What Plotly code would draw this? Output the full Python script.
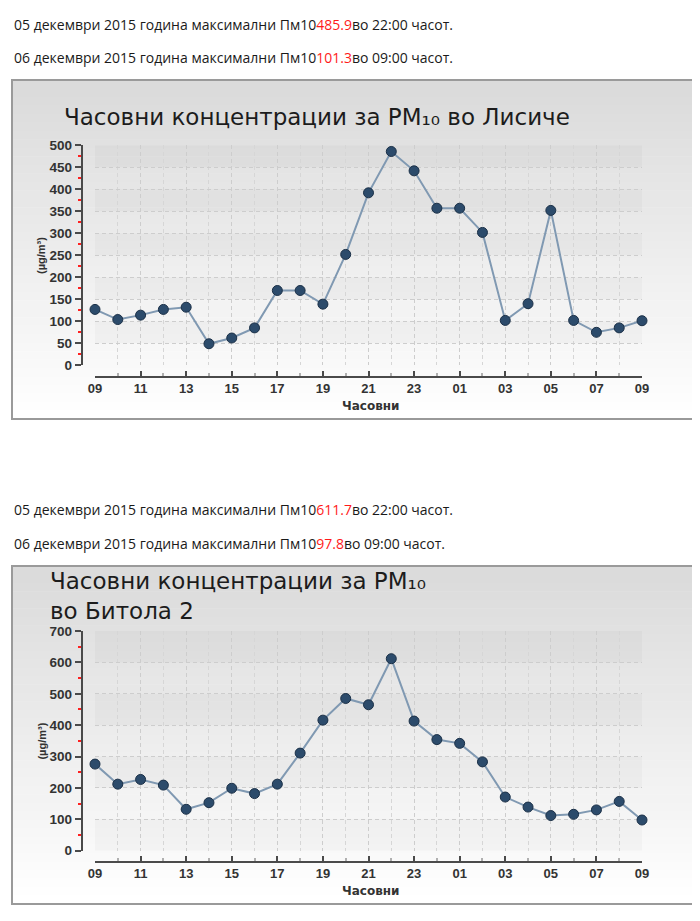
import plotly.graph_objects as go

# the page keeps the browser's 8px body margin, so the figure is 16px smaller
# than the window and every pixel position below is shifted by that margin
PAGE_W, PAGE_H = 700, 921
OFF = 8
W, H = PAGE_W - 2 * OFF, PAGE_H - 2 * OFF

hour_labels = ["09", "10", "11", "12", "13", "14", "15", "16", "17", "18", "19", "20",
               "21", "22", "23", "00", "01", "02", "03", "04", "05", "06", "07", "08", "09"]
hours = list(range(len(hour_labels)))

lisice = [127, 104, 114, 127, 132, 49, 62, 85, 170, 170, 139, 252,
          392, 485.9, 442, 357, 357, 302, 102, 140, 352, 102, 75, 85, 101.3]
bitola = [276, 212, 227, 209, 132, 153, 199, 182, 212, 311, 416, 485,
          465, 611.7, 413, 354, 342, 283, 171, 139, 112, 116, 130, 157, 97.8]

lisice_title = "Часовни концентрации за PM₁₀ во Лисиче"
bitola_title = "Часовни концентрации за PM₁₀<br>во Битола 2"

lisice_info = [("05 декември 2015 година максимални Пм10", "485.9", "во 22:00 часот."),
               ("06 декември 2015 година максимални Пм10", "101.3", "во 09:00 часот.")]
bitola_info = [("05 декември 2015 година максимални Пм10", "611.7", "во 22:00 часот."),
               ("06 декември 2015 година максимални Пм10", "97.8", "во 09:00 часот.")]


def px(x):
    return (x - OFF) / W


def py(y):
    return 1 - (y - OFF) / H


fig = go.Figure()
shapes = []
annotations = []

charts = [
    dict(data=lisice, title=lisice_title, info=lisice_info, box=(80, 419), info_y=(25, 58),
         title_x=62, title_y=117, y_top=145.3, y_bot=365.3, xline=376.7, ymax=500, dtick=50,
         xs="x", ys="y"),
    dict(data=bitola, title=bitola_title, info=bitola_info, box=(566, 904), info_y=(510, 543),
         title_x=48, title_y=596, y_top=631, y_bot=850.7, xline=861.7, ymax=700, dtick=100,
         xs="x2", ys="y2"),
]

text_font = dict(family="Open Sans, Noto Sans, sans-serif", size=14, color="#1a1a1a")

for i, c in enumerate(charts):
    top, bot = c["box"]
    n = 40
    step = (bot - top) / n
    for k in range(n):
        t = k / (n - 1)
        g = int(219 + (255 - 219) * t)
        shapes.append(dict(type="rect", xref="paper", yref="paper",
                           x0=px(12), x1=px(694), y0=py(top + k * step), y1=py(top + (k + 1) * step + 0.5),
                           fillcolor=f"rgb({g},{g},{g})", line=dict(width=0), layer="below"))
    # alternating bands inside the plot area
    band = c["dtick"]
    v = c["ymax"]
    while v > 0:
        shapes.append(dict(type="rect", xref=c["xs"], yref=c["ys"], x0=0, x1=24, y0=v - band, y1=v,
                           fillcolor="rgba(0,0,0,0.022)", line=dict(width=0), layer="below"))
        v -= 2 * band
    shapes.append(dict(type="rect", xref="paper", yref="paper",
                       x0=px(12), x1=px(694), y0=py(top), y1=py(bot),
                       line=dict(color="#9a9a9a", width=2), fillcolor="rgba(0,0,0,0)"))

    for yy, (a, b, d) in zip(c["info_y"], c["info"]):
        annotations.append(dict(xref="paper", yref="paper", x=px(12), y=py(yy), xanchor="left",
                                yanchor="middle", showarrow=False, font=text_font,
                                text=f"{a}<span style='color:#ff1a1a'>{b}</span>{d}"))

    annotations.append(dict(xref="paper", yref="paper", x=px(c["title_x"]), y=py(c["title_y"]),
                            xanchor="left", yanchor="middle", showarrow=False, align="left",
                            font=dict(family="DejaVu Sans", size=23, color="#1c1c1c"),
                            text=c["title"]))
    annotations.append(dict(xref="paper", yref="paper", x=px(41.7), y=py((c["y_top"] + c["y_bot"]) / 2),
                            xanchor="center", yanchor="middle", showarrow=False, textangle=-90,
                            font=dict(family="Liberation Sans, Arial", size=11, color="#333", weight="bold"),
                            text="(µg/m³)"))
    annotations.append(dict(xref="paper", yref="paper", x=px(370), y=py(c["xline"] + 29.5),
                            xanchor="center", yanchor="middle", showarrow=False,
                            font=dict(family="DejaVu Sans", size=12, color="#333", weight="bold"),
                            text="Часовни"))

    fig.add_trace(go.Scatter(
        x=hours, y=c["data"], xaxis=c["xs"], yaxis=c["ys"], mode="lines+markers",
        line=dict(color="#8099b2", width=2),
        marker=dict(size=10, color="#2c4b6b", line=dict(color="#1b3047", width=1)),
        cliponaxis=False, showlegend=False, hoverinfo="x+y"))

    grid = dict(showgrid=True, gridcolor="#cdcdcd", griddash="4px,3px", gridwidth=1)
    xname = "xaxis" if i == 0 else "xaxis2"
    yname = "yaxis" if i == 0 else "yaxis2"
    fig.layout[xname] = dict(
        domain=[px(95), px(642)], range=[0, 24], anchor="free", position=py(c["xline"]),
        automargin=False, showline=True, linecolor="#4a4a4a", linewidth=2, zeroline=False,
        tickmode="array", tickvals=hours[::2], ticktext=hour_labels[::2],
        ticks="inside", ticklen=5, tickcolor="#4a4a4a", tickwidth=1.5,
        tickfont=dict(family="Liberation Sans, Arial", size=13, color="#333", weight="bold"),
        minor=dict(tickmode="linear", tick0=0, dtick=1, ticks="inside", ticklen=3,
                   tickcolor="#b0b0b0", showgrid=True, gridcolor="#d6d6d6", griddash="4px,3px"),
        fixedrange=True, **grid)
    fig.layout[yname] = dict(
        domain=[py(c["y_bot"]), py(c["y_top"])], range=[0, c["ymax"]], anchor="free",
        position=px(81.7), automargin=False, showline=True, linecolor="#4a4a4a", linewidth=2,
        zeroline=False, tickmode="linear", tick0=0, dtick=c["dtick"], ticks="outside", ticklen=6,
        tickcolor="#4a4a4a", tickwidth=1.5,
        tickfont=dict(family="Liberation Sans, Arial", size=13.5, color="#333", weight="bold"),
        minor=dict(tickmode="linear", tick0=0, dtick=c["dtick"] / 2, ticks="outside", ticklen=3,
                   tickcolor="#ff2020", showgrid=False),
        fixedrange=True, **grid)

fig.update_layout(
    width=W, height=H, margin=dict(l=0, r=0, t=0, b=0, autoexpand=False),
    paper_bgcolor="white", plot_bgcolor="rgba(0,0,0,0)",
    shapes=shapes, annotations=annotations, showlegend=False)

fig.write_html("out.html")
